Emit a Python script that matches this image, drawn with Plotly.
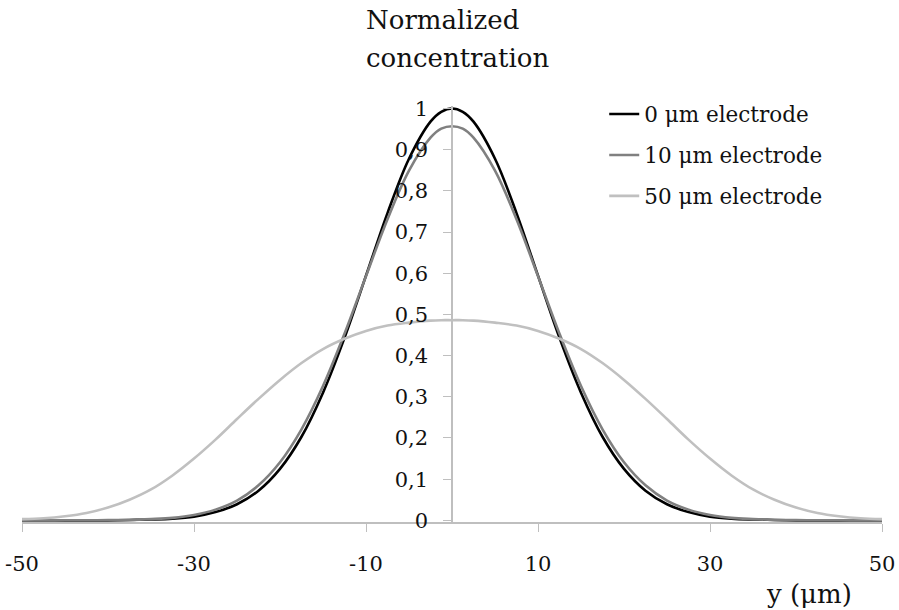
import plotly.graph_objects as go

# Position across the channel, y (µm)
y_pos = [-50, -47.5, -45, -42.5, -40, -37.5, -35, -32.5, -30, -27.5, -25, -22.5, -20, -17.5, -15,
         -12.5, -10, -7.5, -5, -2.5, -1.25, 0, 1.25, 2.5, 5, 7.5, 10, 12.5, 15, 17.5, 20, 22.5,
         25, 27.5, 30, 32.5, 35, 37.5, 40, 42.5, 45, 47.5, 50]

# Normalized concentration (right half from y = 0, symmetric)
half_0um = [1.000, 0.992, 0.968, 0.878, 0.746, 0.594, 0.443, 0.310, 0.203, 0.125, 0.072, 0.039,
            0.020, 0.009, 0.004, 0.002, 0.001, 0.000, 0.000, 0.000, 0.000, 0.000]
half_10um = [0.957, 0.951, 0.929, 0.849, 0.731, 0.593, 0.453, 0.326, 0.221, 0.141, 0.085, 0.048,
             0.026, 0.013, 0.006, 0.003, 0.001, 0.0005, 0.0002, 0.0001, 0.000, 0.000]
half_50um = [0.486, 0.486, 0.485, 0.480, 0.473, 0.460, 0.441, 0.416, 0.382, 0.341, 0.295, 0.246,
             0.196, 0.150, 0.109, 0.075, 0.050, 0.031, 0.018, 0.010, 0.005, 0.003]

conc_0um = half_0um[:0:-1] + half_0um
conc_10um = half_10um[:0:-1] + half_10um
conc_50um = half_50um[:0:-1] + half_50um

series_names = ["0 μm electrode", "10 μm electrode", "50 μm electrode"]
series_values = [conc_0um, conc_10um, conc_50um]
series_colors = ["#000000", "#808080", "#c0c0c0"]

x_ticks = [-50, -30, -10, 10, 30, 50]
x_tick_labels = ["-50", "-30", "-10", "10", "30", "50"]
y_ticks = [0, 0.1, 0.2, 0.3, 0.4, 0.5, 0.6, 0.7, 0.8, 0.9, 1]

FONT = "DejaVu Serif"
AXIS_COLOR = "#bfbfbf"
TXT = "#111111"

fig = go.Figure()
for name, vals, col in zip(series_names, series_values, series_colors):
    fig.add_trace(go.Scatter(
        x=y_pos, y=vals, mode="lines", name=name, legendgroup=name,
        line=dict(color=col, width=2.6, shape="spline", smoothing=1),
        hoverinfo="skip",
    ))

fig.update_layout(
    width=899, height=610,
    margin=dict(l=22, r=17, t=106, b=88),
    paper_bgcolor="white", plot_bgcolor="white",
    separators=", ",
    font=dict(family=FONT, size=21, color=TXT),
    showlegend=True,
    legend=dict(x=0.677, y=1.03, xanchor="left", yanchor="top",
                bgcolor="rgba(0,0,0,0)", font=dict(family=FONT, size=21.5, color=TXT),
                tracegroupgap=10, traceorder="grouped"),
    xaxis=dict(range=[-50, 50], tickvals=x_ticks, ticktext=x_tick_labels,
               showgrid=False, zeroline=False, automargin=False,
               showline=True, linecolor=AXIS_COLOR, linewidth=1.5,
               ticks="outside", ticklen=8, tickwidth=1, tickcolor=AXIS_COLOR,
               ticklabelstandoff=14, tickfont=dict(family=FONT, size=21, color=TXT)),
    yaxis=dict(range=[-0.004, 1.006], tickvals=y_ticks, showgrid=False, zeroline=False,
               anchor="free", position=0.5, automargin=False,
               showline=True, linecolor=AXIS_COLOR, linewidth=1.5,
               ticks="outside", ticklen=8, tickwidth=1, tickcolor=AXIS_COLOR,
               ticklabelstandoff=11, tickfont=dict(family=FONT, size=21, color=TXT)),
    annotations=[
        dict(text="Normalized", xref="paper", yref="paper", x=0.3977, y=1.2067,
             xanchor="left", yanchor="middle", showarrow=False,
             font=dict(family=FONT, size=26, color=TXT)),
        dict(text="concentration", xref="paper", yref="paper", x=0.3977, y=1.1154,
             xanchor="left", yanchor="middle", showarrow=False,
             font=dict(family=FONT, size=26, color=TXT)),
        dict(text="y (μm)", xref="paper", yref="paper", x=0.915, y=-0.173,
             xanchor="center", yanchor="middle", showarrow=False,
             font=dict(family=FONT, size=26, color=TXT)),
    ],
)

fig.write_html("out.html")
